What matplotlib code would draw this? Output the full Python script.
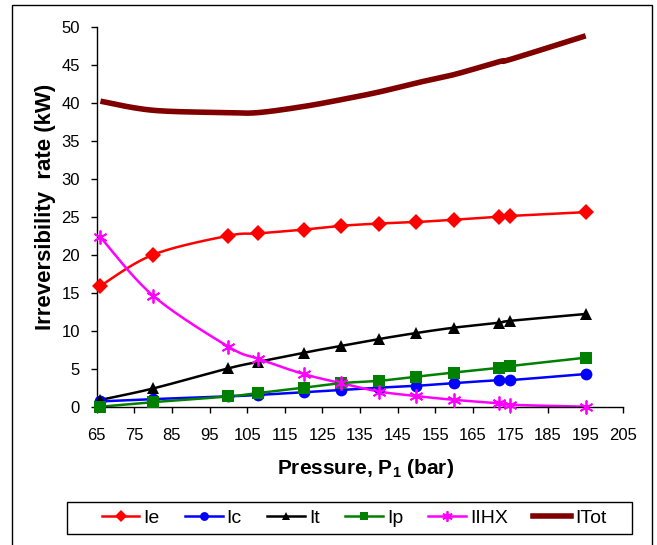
import numpy as np
import matplotlib.pyplot as plt
from matplotlib.lines import Line2D
from matplotlib.patches import Rectangle

plt.rcParams['font.family'] = ['Liberation Sans', 'DejaVu Sans']

# Pressure P1 (bar)
pressure = [66, 80, 100, 108, 120, 130, 140, 150, 160, 172, 175, 195]

# Irreversibility rates (kW)
ie = [15.9, 20.0, 22.5, 22.8, 23.3, 23.8, 24.1, 24.3, 24.6, 25.0, 25.1, 25.6]
ic = [0.7, 1.0, 1.35, 1.55, 1.9, 2.2, 2.5, 2.75, 3.1, 3.5, 3.5, 4.3]
it = [0.9, 2.4, 5.05, 5.9, 7.1, 8.0, 8.9, 9.7, 10.4, 11.05, 11.3, 12.2]
ip = [0.0, 0.6, 1.35, 1.8, 2.5, 3.1, 3.4, 3.95, 4.5, 5.1, 5.35, 6.45]
iihx = [22.3, 14.6, 7.9, 6.3, 4.3, 3.1, 2.0, 1.4, 0.9, 0.45, 0.25, 0.0]
itot = [40.2, 39.0, 38.7, 38.7, 39.5, 40.4, 41.4, 42.6, 43.7, 45.4, 45.7, 48.8]

x_ticks = list(range(65, 206, 10))
y_ticks = list(range(0, 51, 5))


def smooth(x, y, n=20, w=526.0, h=380.0):
    """Catmull-Rom curve through the points, computed in screen-like units."""
    px = (np.asarray(x, float) - 65) / 140 * w
    py = np.asarray(y, float) / 50 * h
    pts = np.column_stack([px, py])
    pts = np.vstack([pts[0], pts, pts[-1]])
    out = []
    t = np.linspace(0, 1, n, endpoint=False)[:, None]
    for i in range(1, len(pts) - 2):
        p0, p1, p2, p3 = pts[i - 1], pts[i], pts[i + 1], pts[i + 2]
        c1 = p1 + (p2 - p0) / 6
        c2 = p2 - (p3 - p1) / 6
        seg = ((1 - t) ** 3) * p1 + 3 * ((1 - t) ** 2) * t * c1 \
            + 3 * (1 - t) * t ** 2 * c2 + t ** 3 * p2
        out.append(seg)
    out.append(pts[-2][None, :])
    out = np.vstack(out)
    return out[:, 0] / w * 140 + 65, out[:, 1] / h * 50


fig = plt.figure(figsize=(6.57, 5.45), dpi=100)
ax = fig.add_axes([96.7 / 657, 1 - 406.7 / 545, (623.3 - 96.7) / 657, (406.7 - 26.7) / 545])

series = [
    ('Ie', ie, '#FF0000', 'D', 8),
    ('Ic', ic, '#0000FF', 'o', 8.5),
    ('It', it, '#000000', '^', 8.5),
    ('Ip', ip, '#008000', 's', 8),
    ('IIHX', iihx, '#FF00FF', (6, 2, 0), 10),
]

handles = []
for name, vals, color, marker, ms in series:
    sx, sy = smooth(pressure, vals)
    ax.plot(sx, sy, color=color, lw=1.8, zorder=2, clip_on=False)
    mkw = dict(markeredgewidth=1.3) if marker == (6, 2, 0) else dict(markeredgewidth=0)
    ax.plot(pressure, vals, linestyle='none', marker=marker, ms=ms,
            color=color, markeredgecolor=color, zorder=3, clip_on=False, **mkw)
    handles.append(Line2D([], [], color=color, lw=1.8, marker=marker,
                          ms=ms * 0.75, markeredgecolor=color, **mkw))

sx, sy = smooth(pressure, itot)
ax.plot(sx, sy, color='#800000', lw=4.0, zorder=2, solid_capstyle='butt')
handles.append(Line2D([], [], color='#800000', lw=4.0))

ax.set_xlim(65, 205)
ax.set_ylim(0, 50)
ax.set_xticks(x_ticks)
ax.set_yticks(y_ticks)
ax.tick_params(axis='both', direction='out', length=4, width=1, labelsize=12,
               colors='black')
ax.tick_params(axis='x', pad=11)
ax.tick_params(axis='y', pad=8)
for side in ('top', 'right'):
    ax.spines[side].set_visible(False)
for side in ('left', 'bottom'):
    ax.spines[side].set_linewidth(1)

ax.set_xlabel('Pressure, P$_\\mathregular{1}$ (bar)', fontsize=15, fontweight='bold')
ax.xaxis.set_label_coords(0.5 + 6 / 526.6, -0.132)
ax.set_ylabel('Irreversibility  rate (kW)', fontsize=16, fontweight='bold')
ax.yaxis.set_label_coords(-0.078, 0.525)

leg = fig.legend(handles, ['Ie', 'Ic', 'It', 'Ip', 'IIHX', 'ITot'], ncol=6,
                 loc='center', bbox_to_anchor=(354 / 657, 1 - 518 / 545),
                 frameon=False, fontsize=14, handlelength=1.95,
                 handletextpad=0.2, columnspacing=1.3)

# legend box and outer chart border
fig.patches.append(Rectangle((67 / 657, 1 - 534 / 545), 565 / 657, 32 / 545,
                             transform=fig.transFigure, fill=False,
                             edgecolor='black', lw=1))
fig.patches.append(Rectangle((12 / 657, -0.05), 640 / 657, 1.05 - 5 / 545,
                             transform=fig.transFigure, fill=False,
                             edgecolor='black', lw=1))

fig.savefig('out.png', dpi=100)
